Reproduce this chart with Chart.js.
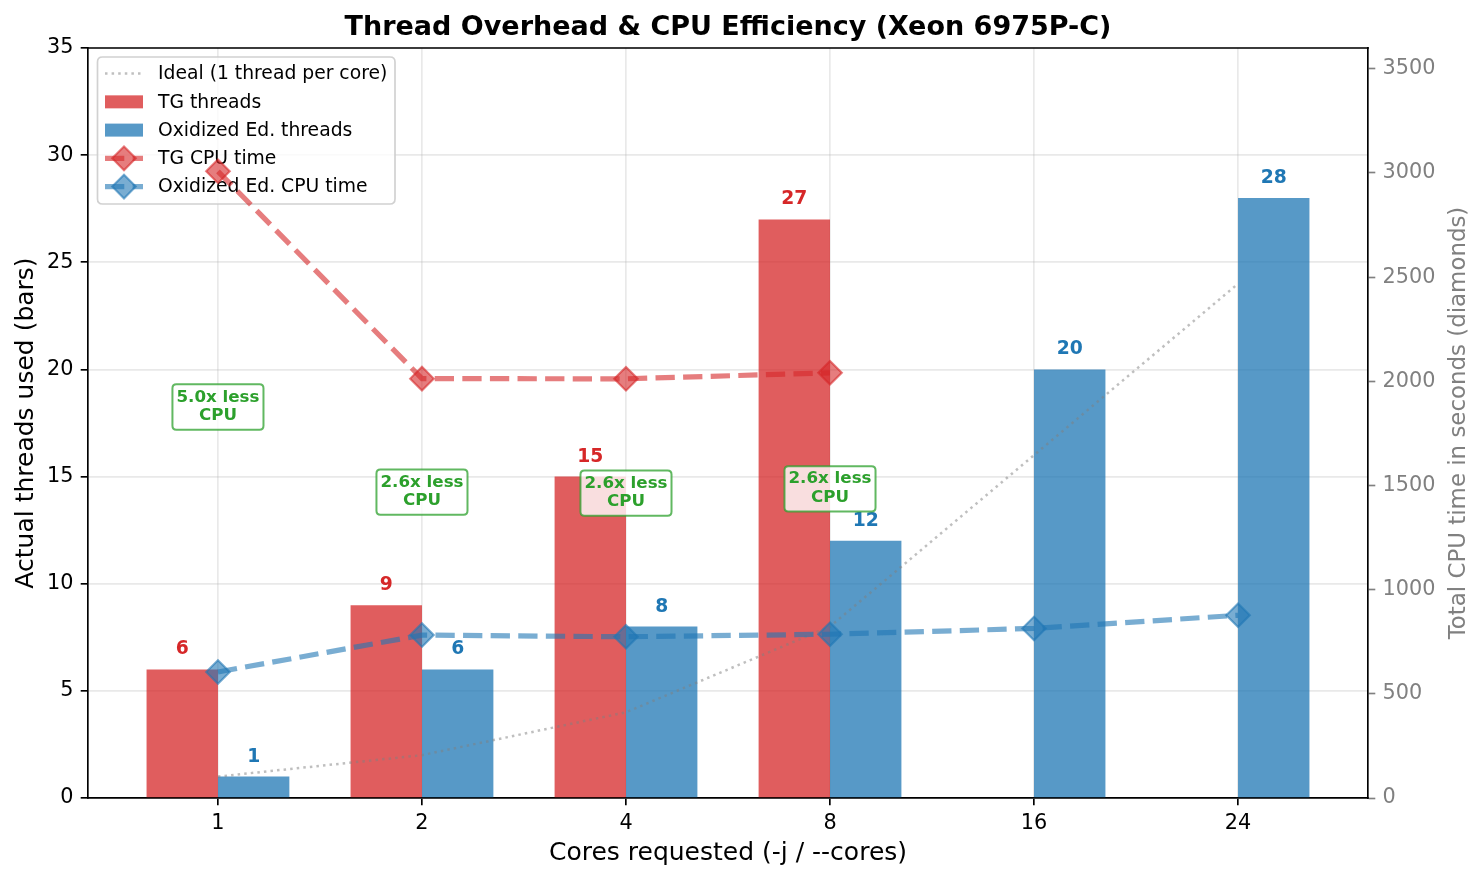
<!DOCTYPE html>
<html>
<head>
<meta charset="utf-8">
<script src="https://cdn.jsdelivr.net/npm/chart.js@4.4.1/dist/chart.umd.min.js"></script>
<style>
html,body{margin:0;padding:0;background:#fff;}
#wrap{width:1482px;height:880px;position:relative;}
</style>
</head>
<body>
<div id="wrap"><canvas id="c"></canvas></div>
<script>
// ---- data ----
const coreLabels   = ['1', '2', '4', '8', '16', '24'];
const idealThreads = [1, 2, 4, 8, 16, 24];
const tgThreads    = [6, 9, 15, 27, null, null];
const oxThreads    = [1, 6, 8, 12, 20, 28];
const tgCpu        = [3008, 2013, 2012, 2041, null, null];
const oxCpu        = [605, 782, 774, 786, 814, 877];
const threadTicks  = [0, 5, 10, 15, 20, 25, 30, 35];
const cpuTicks     = [0, 500, 1000, 1500, 2000, 2500, 3000, 3500];

const chartTitle = 'Thread Overhead & CPU Efficiency (Xeon 6975P-C)';
const xTitle = 'Cores requested (-j / --cores)';
const yTitle = 'Actual threads used (bars)';
const y2Title = 'Total CPU time in seconds (diamonds)';

// ---- style ----
const F = '"DejaVu Sans", sans-serif';
const RED = '#d62728', BLUE = '#1f77b4', GREEN = '#2ca02c';
const RED_BAR = 'rgba(214,39,40,0.75)', BLUE_BAR = 'rgba(31,119,180,0.75)';
const RED_LINE = 'rgba(214,39,40,0.6)', BLUE_LINE = 'rgba(31,119,180,0.6)';
const IDEAL = 'rgba(128,128,128,0.5)';
const IDEAL_W = 2.5, IDEAL_DASH = [2.5, 4.1];
const GRID = 'rgba(176,176,176,0.28)';
const LW = 1.67, TICKLEN = 7.3;

const toXY = arr => arr.map((v, i) => ({x: i, y: v})).filter(p => p.y !== null);

function diamond(ctx, x, y, r, color) {
  ctx.beginPath();
  ctx.moveTo(x - r, y); ctx.lineTo(x, y - r); ctx.lineTo(x + r, y); ctx.lineTo(x, y + r); ctx.closePath();
  ctx.fillStyle = color; ctx.fill();
  ctx.strokeStyle = color; ctx.lineWidth = 2.1; ctx.stroke();
}
function roundRect(ctx, x, y, w, h, r) {
  ctx.beginPath();
  ctx.moveTo(x + r, y);
  ctx.lineTo(x + w - r, y); ctx.quadraticCurveTo(x + w, y, x + w, y + r);
  ctx.lineTo(x + w, y + h - r); ctx.quadraticCurveTo(x + w, y + h, x + w - r, y + h);
  ctx.lineTo(x + r, y + h); ctx.quadraticCurveTo(x, y + h, x, y + h - r);
  ctx.lineTo(x, y + r); ctx.quadraticCurveTo(x, y, x + r, y);
  ctx.closePath();
}

const deco = {
  id: 'deco',
  beforeDatasetsDraw(chart) {
    // legend
    const ctx = chart.ctx, ca = chart.chartArea;
    const L = ca.left + 9.5, T = ca.top + 9;
    ctx.save();
    roundRect(ctx, L, T, 297.5, 147, 5);
    ctx.fillStyle = 'rgba(255,255,255,0.8)'; ctx.fill();
    ctx.strokeStyle = 'rgba(204,204,204,0.9)'; ctx.lineWidth = LW; ctx.stroke();
    const hx0 = L + 7.5, hx1 = L + 45.5, tx = L + 60.5;
    const items = [
      {label: chart.data.datasets[2].label, kind: 'dot'},
      {label: chart.data.datasets[0].label, kind: 'bar', color: RED_BAR},
      {label: chart.data.datasets[1].label, kind: 'bar', color: BLUE_BAR},
      {label: chart.data.datasets[3].label, kind: 'cpu', color: RED_LINE},
      {label: chart.data.datasets[4].label, kind: 'cpu', color: BLUE_LINE}
    ];
    ctx.font = '18.75px ' + F;
    items.forEach((it, k) => {
      const base = T + 22.3 + k * 28.25;
      const cy = base - 5.7;
      if (it.kind === 'dot') {
        ctx.save(); ctx.strokeStyle = IDEAL; ctx.lineWidth = IDEAL_W; ctx.setLineDash(IDEAL_DASH);
        ctx.beginPath(); ctx.moveTo(hx0, cy); ctx.lineTo(hx1, cy); ctx.stroke(); ctx.restore();
      } else if (it.kind === 'bar') {
        ctx.fillStyle = it.color; ctx.fillRect(hx0, cy - 6.5, hx1 - hx0, 13);
      } else {
        ctx.save(); ctx.strokeStyle = it.color; ctx.lineWidth = 5.2; ctx.setLineDash([19.3, 8.3]);
        ctx.beginPath(); ctx.moveTo(hx0, cy); ctx.lineTo(hx1, cy); ctx.stroke(); ctx.restore();
        diamond(ctx, (hx0 + hx1) / 2, cy, 11.8, it.color);
      }
      ctx.fillStyle = '#000'; ctx.textAlign = 'left'; ctx.textBaseline = 'alphabetic';
      ctx.fillText(it.label, tx, base);
    });
    ctx.restore();
  },
  afterDatasetsDraw(chart) {
    const ctx = chart.ctx;
    const ys = chart.scales.y, y2 = chart.scales.y2, xs = chart.scales.x;
    ctx.save();
    // bar value labels
    ctx.font = 'bold 18.75px ' + F;
    ctx.textAlign = 'center'; ctx.textBaseline = 'alphabetic';
    [[0, tgThreads, RED], [1, oxThreads, BLUE]].forEach(([di, arr, col]) => {
      const meta = chart.getDatasetMeta(di);
      let k = 0;
      arr.forEach((v, i) => {
        if (v === null) return;
        const el = meta.data[k++];
        ctx.fillStyle = col;
        ctx.fillText(String(v), el.x, ys.getPixelForValue(v + 0.5) - 4.3);
      });
    });
    // ratio annotations
    ctx.font = 'bold 16.7px ' + F;
    tgCpu.forEach((tg, i) => {
      const ox = oxCpu[i];
      if (tg === null || ox === null) return;
      const l1 = (tg / ox).toFixed(1) + 'x less', l2 = 'CPU';
      const cx = xs.getPixelForValue(i);
      const cy = y2.getPixelForValue((tg + ox) / 2) - 14.7;
      const w = Math.max(ctx.measureText(l1).width, ctx.measureText(l2).width) + 8;
      roundRect(ctx, cx - w / 2, cy - 22.6, w, 45.3, 4);
      ctx.fillStyle = 'rgba(255,255,255,0.8)'; ctx.fill();
      ctx.strokeStyle = 'rgba(44,160,44,0.75)'; ctx.lineWidth = 2; ctx.stroke();
      ctx.fillStyle = GREEN;
      ctx.fillText(l1, cx, cy - 5.4);
      ctx.fillText(l2, cx, cy + 13);
    });
    ctx.restore();
  },
  afterDraw(chart) {
    const ctx = chart.ctx, ca = chart.chartArea;
    ctx.save();
    // top spine
    ctx.strokeStyle = '#000'; ctx.lineWidth = LW;
    ctx.beginPath(); ctx.moveTo(ca.left - LW / 2, ca.top); ctx.lineTo(ca.right + LW / 2, ca.top); ctx.stroke();
    const mx = (ca.left + ca.right) / 2, my = (ca.top + ca.bottom) / 2;
    ctx.textAlign = 'center'; ctx.textBaseline = 'alphabetic';
    ctx.fillStyle = '#000';
    ctx.font = 'bold 27px ' + F;
    ctx.fillText(chartTitle, mx, 35);
    ctx.font = '25px ' + F;
    ctx.fillText(xTitle, mx, 860);
    ctx.save(); ctx.translate(32.7, my); ctx.rotate(-Math.PI / 2);
    ctx.fillText(yTitle, 0, 0); ctx.restore();
    ctx.font = '22.9px ' + F;
    ctx.save(); ctx.translate(1465, my); ctx.rotate(-Math.PI / 2);
    ctx.fillStyle = '#808080'; ctx.fillText(y2Title, 0, 0); ctx.restore();
    ctx.restore();
  }
};

new Chart(document.getElementById('c'), {
  type: 'bar',
  data: {
    datasets: [
      {type: 'bar', label: 'TG threads', data: toXY(tgThreads), backgroundColor: RED_BAR, borderWidth: 0,
       categoryPercentage: 0.7, barPercentage: 1.0, yAxisID: 'y', order: 4},
      {type: 'bar', label: 'Oxidized Ed. threads', data: toXY(oxThreads), backgroundColor: BLUE_BAR, borderWidth: 0,
       categoryPercentage: 0.7, barPercentage: 1.0, yAxisID: 'y', order: 4},
      {type: 'line', label: 'Ideal (1 thread per core)', data: toXY(idealThreads), borderColor: IDEAL,
       borderWidth: IDEAL_W, borderDash: IDEAL_DASH, pointRadius: 0, fill: false, tension: 0, yAxisID: 'y', order: 3},
      {type: 'line', label: 'TG CPU time', data: toXY(tgCpu), borderColor: RED_LINE, borderWidth: 5.2,
       borderDash: [19.3, 8.3], pointStyle: 'rectRot', pointRadius: 11.8, pointBackgroundColor: RED_LINE,
       pointBorderColor: RED_LINE, pointBorderWidth: 2.1, fill: false, tension: 0, yAxisID: 'y2', order: 2},
      {type: 'line', label: 'Oxidized Ed. CPU time', data: toXY(oxCpu), borderColor: BLUE_LINE, borderWidth: 5.2,
       borderDash: [19.3, 8.3], pointStyle: 'rectRot', pointRadius: 11.8, pointBackgroundColor: BLUE_LINE,
       pointBorderColor: BLUE_LINE, pointBorderWidth: 2.1, fill: false, tension: 0, yAxisID: 'y2', order: 1}
    ]
  },
  options: {
    responsive: true,
    maintainAspectRatio: false,
    animation: false,
    events: [],
    layout: {padding: {top: 48, left: 0, right: 0, bottom: 0}},
    plugins: {legend: {display: false}, title: {display: false}, tooltip: {enabled: false}},
    scales: {
      x: {
        type: 'linear', position: 'bottom', min: -0.637, max: 5.637, offset: false,
        afterBuildTicks: s => { s.ticks = coreLabels.map((_, i) => ({value: i})); },
        afterFit: s => { s.height = 82; },
        ticks: {callback: v => coreLabels[v] ?? '', font: {family: F, size: 20.8}, color: '#000',
                padding: 5.5, autoSkip: false, maxRotation: 0},
        grid: {offset: false, color: GRID, lineWidth: LW, tickColor: '#000', tickLength: TICKLEN, tickWidth: LW},
        border: {color: '#000', width: LW}
      },
      y: {
        type: 'linear', position: 'left', min: 0, max: 35,
        afterBuildTicks: s => { s.ticks = threadTicks.map(v => ({value: v})); },
        afterFit: s => { s.width = 88; },
        ticks: {callback: v => String(v), font: {family: F, size: 20.8}, color: '#000', padding: 7.3},
        grid: {color: GRID, lineWidth: LW, tickColor: '#000', tickLength: TICKLEN, tickWidth: LW},
        border: {color: '#000', width: LW}
      },
      y2: {
        type: 'linear', position: 'right', min: 0, max: 3600,
        afterBuildTicks: s => { s.ticks = cpuTicks.map(v => ({value: v})); },
        afterFit: s => { s.width = 114; },
        ticks: {callback: v => String(v), font: {family: F, size: 20.8}, color: '#808080', padding: 7.3},
        grid: {drawOnChartArea: false, color: GRID, tickColor: '#808080', tickLength: TICKLEN, tickWidth: LW},
        border: {color: '#000', width: LW}
      }
    }
  },
  plugins: [deco]
});
</script>
</body>
</html>
